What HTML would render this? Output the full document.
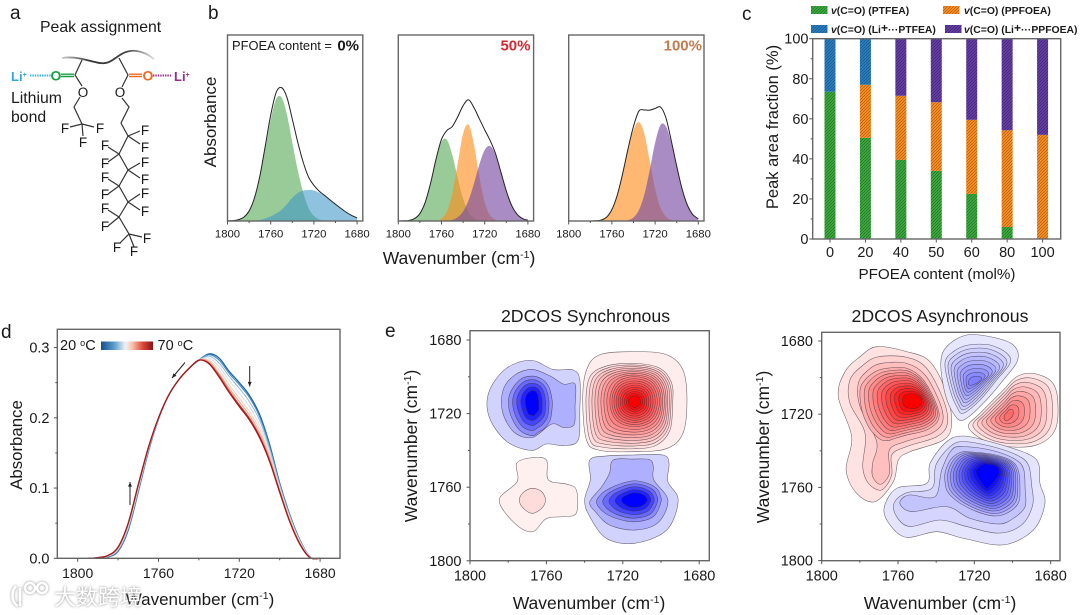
<!DOCTYPE html>
<html lang="en">
<head>
<meta charset="utf-8">
<title>PFOEA peak assignment and 2DCOS figure</title>
<style>
html,body{margin:0;padding:0;background:#fff;width:1080px;height:615px;overflow:hidden}
svg{display:block;font-family:"Liberation Sans","Noto Sans CJK SC",sans-serif}
svg text{fill:#1a1a1a}
</style>
</head>
<body>
<svg id="figure" xmlns="http://www.w3.org/2000/svg" width="1080" height="615" viewBox="0 0 1080 615">
<defs>
<pattern id="hatch-green" patternUnits="userSpaceOnUse" width="3" height="3"><rect width="3" height="3" fill="#3fae3c"/><path d="M-1,1L1,-1M0,3L3,0M2,4L4,2" stroke="#1d6a2a" stroke-width=".7"/></pattern>
<pattern id="hatch-orange" patternUnits="userSpaceOnUse" width="3" height="3"><rect width="3" height="3" fill="#ff921e"/><path d="M-1,1L1,-1M0,3L3,0M2,4L4,2" stroke="#a8581a" stroke-width=".7"/></pattern>
<pattern id="hatch-blue" patternUnits="userSpaceOnUse" width="3" height="3"><rect width="3" height="3" fill="#2a83c4"/><path d="M-1,1L1,-1M0,3L3,0M2,4L4,2" stroke="#1a4f80" stroke-width=".7"/></pattern>
<pattern id="hatch-purple" patternUnits="userSpaceOnUse" width="3" height="3"><rect width="3" height="3" fill="#6a3fa8"/><path d="M-1,1L1,-1M0,3L3,0M2,4L4,2" stroke="#3a2270" stroke-width=".7"/></pattern>
<linearGradient id="temp-gradient" x1="0" x2="1" y1="0" y2="0"><stop offset="0" stop-color="#14508f"/><stop offset=".25" stop-color="#5b9bcc"/><stop offset=".47" stop-color="#eef3f7"/><stop offset=".6" stop-color="#f9c3ac"/><stop offset=".8" stop-color="#dc4a3c"/><stop offset="1" stop-color="#8c1016"/></linearGradient>
<linearGradient id="backbone-gradient" x1="0" x2="1" y1="0" y2="0"><stop offset="0" stop-color="#ccc"/><stop offset=".3" stop-color="#333"/><stop offset=".7" stop-color="#444"/><stop offset="1" stop-color="#ddd"/></linearGradient>
</defs>

<g>
<text x="10" y="19" font-size="19">a</text>
<text x="40" y="32" font-size="15.8">Peak assignment</text>
<path d="M62,58C75,56 85,60 95,62C108,66 112,60 120,55C130,48 143,50 154,59" fill="none" stroke="url(#backbone-gradient)" stroke-width="1.8"/>
<g fill="none" stroke="#333" stroke-width="1.2">
<path d="M82,60L75,75L82,86M80,97L74,107L82,124M82,124L70,127M82,124L94,127M82,124L83,136"/>
<path d="M119,58L128,75L122,87M122,98L129,107L121,123L128,136M128,136L140,131M128,136L140,144M128,136L119,154M119,154L108,147M119,154L108,162M119,154L128,170M128,170L140,163M128,170L140,178M128,170L119,186M119,186L108,179M119,186L108,194M119,186L128,202M128,202L140,194M128,202L140,210M128,202L119,217M119,217L108,210M119,217L108,226M119,217L129,234M129,234L142,237M129,234L120,243M129,234L134,247"/>
</g>
<path d="M61,74.2H74M61,76.5H74" stroke="#19a045" stroke-width="1.4"/>
<path d="M129,74.2H142M129,76.5H142" stroke="#ef6a22" stroke-width="1.4"/>
<path d="M30,75.5H51" stroke="#35b0dc" stroke-width="2" stroke-dasharray="1.4 1"/>
<path d="M153,75.5H172" stroke="#a0288c" stroke-width="2" stroke-dasharray="1.4 1"/>
<text x="11" y="81" font-size="13" font-weight="bold" style="fill:#35a8d8">Li<tspan font-size="7" dy="-4" style="fill:#35a8d8">+</tspan></text>
<text x="50.5" y="80.5" font-size="14" font-weight="bold" style="fill:#19a045">O</text>
<text x="142.5" y="80.5" font-size="14" font-weight="bold" style="fill:#ef6a22">O</text>
<text x="174" y="81" font-size="13" font-weight="bold" style="fill:#9a2a8c">Li<tspan font-size="7" dy="-4" style="fill:#9a2a8c">+</tspan></text>
<text x="11" y="103" font-size="15.8">Lithium</text>
<text x="11" y="122" font-size="15.8">bond</text>
<g font-size="13.5" text-anchor="middle">
<text x="83" y="97">O</text><text x="120" y="97">O</text>
<text x="65" y="133">F</text><text x="100" y="133">F</text><text x="83" y="147">F</text>
<text x="145" y="135">F</text><text x="145" y="152">F</text><text x="105" y="150">F</text><text x="105" y="168">F</text>
<text x="145" y="167">F</text><text x="145" y="184">F</text><text x="105" y="182">F</text><text x="105" y="199">F</text>
<text x="145" y="198">F</text><text x="145" y="216">F</text><text x="105" y="213">F</text><text x="105" y="231">F</text>
<text x="147" y="243">F</text><text x="117" y="252">F</text><text x="134" y="256">F</text>
</g>
</g>

<g id="panel-b">
<text x="208" y="19" font-size="19">b</text>
<text transform="translate(216,122) rotate(-90)" text-anchor="middle" font-size="17">Absorbance</text>
<text x="459" y="264" text-anchor="middle" font-size="17.5">Wavenumber (cm<tspan font-size="10.5" dy="-6">-1</tspan><tspan dy="6">)</tspan></text>
</g>

<g id="panel-c">
<text x="742" y="20" font-size="19">c</text>
<text transform="translate(778,127) rotate(-90)" text-anchor="middle" font-size="16.5">Peak area fraction (%)</text>
<text x="937" y="279" text-anchor="middle" font-size="15.2">PFOEA content (mol%)</text>
<g font-size="10.4" font-weight="bold">
<rect x="811" y="6" width="16.5" height="8" fill="url(#hatch-green)"/>
<text x="831" y="14"><tspan font-style="italic">v</tspan>(C=O) (PTFEA)</text>
<rect x="943" y="6" width="16.5" height="8" fill="url(#hatch-orange)"/>
<text x="964" y="14"><tspan font-style="italic">v</tspan>(C=O) (PPFOEA)</text>
<rect x="811" y="25" width="16.5" height="8" fill="url(#hatch-blue)"/>
<text x="831" y="33"><tspan font-style="italic">v</tspan>(C=O) (Li<tspan font-size="12" dy="-1">+</tspan><tspan dy="1">···PTFEA)</tspan></text>
<rect x="945" y="25" width="16.5" height="8" fill="url(#hatch-purple)"/>
<text x="964" y="33"><tspan font-style="italic">v</tspan>(C=O) (Li<tspan font-size="12" dy="-1">+</tspan><tspan dy="1">···PPFOEA)</tspan></text>
</g>
</g>

<g id="panel-d">
<text x="1" y="338" font-size="19">d</text>
<text transform="translate(22,445) rotate(-90)" text-anchor="middle" font-size="16.8">Absorbance</text>
<text x="200" y="605" text-anchor="middle" font-size="17">Wavenumber (cm<tspan font-size="10.5" dy="-6">-1</tspan><tspan dy="6">)</tspan></text>
<text x="60" y="350" font-size="14.5">20 <tspan font-size="9" dy="-4">o</tspan><tspan dy="4">C</tspan></text>
<rect x="101" y="341.5" width="52" height="8.5" fill="url(#temp-gradient)"/>
<text x="157.5" y="350" font-size="14.5">70 <tspan font-size="9" dy="-4">o</tspan><tspan dy="4">C</tspan></text>
</g>

<g id="panel-e1">
<text x="385" y="337" font-size="19">e</text>
<text x="585.5" y="322" text-anchor="middle" font-size="17.7">2DCOS Synchronous</text>
<text transform="translate(417,446) rotate(-90)" text-anchor="middle" font-size="17.5">Wavenumber (cm<tspan font-size="10.5" dy="-6">-1</tspan><tspan dy="6">)</tspan></text>
<text x="589" y="609" text-anchor="middle" font-size="17.5">Wavenumber (cm<tspan font-size="10.5" dy="-6">-1</tspan><tspan dy="6">)</tspan></text>
</g>

<g id="panel-e2">
<text x="940" y="322" text-anchor="middle" font-size="17.7">2DCOS Asynchronous</text>
<text transform="translate(769,447) rotate(-90)" text-anchor="middle" font-size="17.5">Wavenumber (cm<tspan font-size="10.5" dy="-6">-1</tspan><tspan dy="6">)</tspan></text>
<text x="940" y="609" text-anchor="middle" font-size="17.5">Wavenumber (cm<tspan font-size="10.5" dy="-6">-1</tspan><tspan dy="6">)</tspan></text>
</g>

<g style="filter:drop-shadow(0 0 1.2px #8a8a8a)">
<path d="M16,586C11,592 11,602 18,606M20,588V606M30,583a5,5 0 1 0 .1,0M42,583a5,5 0 1 0 .1,0" fill="none" stroke="#fff" stroke-width="2.6"/>
<text x="54" y="605" font-size="22" style="fill:#fff;font-family:'Liberation Sans','Noto Sans CJK SC',sans-serif">大数跨境</text>
</g>
</svg>

<script>
// ---------- panel b data (absorbance fraction of the frame, one value per wavenumber) ----------
const bandWavenumbers = [1800,1795,1790,1785,1780,1775,1770,1765,1760,1755,1750,1745,1740,1735,1730,1725,1720,1715,1710,1705,1700,1695,1690,1685,1680];
const green0 = [0,.002,.007,.02,.054,.123,.237,.39,.546,.655,.665,.573,.423,.275,.155,.07,.028,.008,.002,0,0,0,0,0,0];
const blue0 = [0,0,0,0,0,.002,.006,.014,.025,.04,.06,.09,.125,.15,.163,.167,.164,.152,.135,.113,.09,.068,.047,.03,.017];
const envelope0 = [.001,.002,.007,.02,.054,.125,.243,.404,.57,.69,.717,.665,.548,.425,.318,.237,.192,.16,.137,.113,.09,.068,.047,.03,.017];
const green50 = [0,.001,.003,.013,.04,.102,.206,.332,.426,.436,.355,.231,.12,.049,.016,.004,.001,0,0,0,0,0,0,0,0];
const orange50 = [0,0,0,0,0,0,0,.002,.013,.051,.147,.309,.47,.518,.413,.239,.1,.03,.007,.001,0,0,0,0,0];
const purple50 = [0,0,0,0,0,0,0,0,0,0,.006,.02,.051,.11,.2,.303,.382,.403,.356,.262,.162,.083,.036,.013,.004];
const envelope50 = [0,.001,.003,.013,.04,.102,.206,.334,.439,.487,.508,.56,.62,.652,.61,.55,.49,.433,.363,.263,.162,.083,.036,.013,.004];
const orange100 = [0,0,0,0,0,.001,.005,.02,.062,.14,.255,.385,.49,.532,.47,.323,.173,.072,.023,.006,.001,0,0,0,0];
const purple100 = [0,0,0,0,0,0,0,0,0,0,.001,.005,.019,.059,.142,.273,.42,.516,.509,.42,.292,.171,.084,.034,.012];
const envelope100 = [0,0,0,0,0,.001,.005,.02,.062,.14,.256,.39,.509,.591,.597,.596,.605,.613,.555,.431,.295,.172,.084,.034,.012];
const bandMajorTicks = [1800,1760,1720,1680];
const bandMinorTicks = [1780,1740,1700];

// ---------- panel c data ----------
const contentCategories = [0,20,40,50,60,80,100];
const ptfeaValues = [73.5,50.5,39.5,34,22.5,6,0];
const ppfoeaValues = [0,26.5,32,34.3,37,48.3,52];
const liPtfeaValues = [26.5,23,0,0,0,0,0];
const liPpfoeaValues = [0,0,28.5,31.7,40.5,45.7,48];
const fractionTicks = [0,20,40,60,80,100];
const fractionMinorTicks = [10,30,50,70,90];

// ---------- panel d data ----------
const tempWavenumbers = [1795,1790,1785,1780,1775,1770,1765,1760,1755,1750,1745,1740,1735,1730,1725,1720,1715,1710,1705,1700,1695,1690,1685,1680];
const temp20 = [0,0,.002,.01,.04,.095,.152,.198,.232,.254,.27,.282,.291,.285,.266,.25,.232,.205,.162,.107,.062,.026,.002,0];
const temp25 = [0,0,.002,.011,.041,.096,.153,.198,.232,.254,.27,.282,.29,.282,.263,.247,.229,.202,.16,.106,.061,.025,.002,0];
const temp30 = [0,0,.003,.012,.043,.098,.154,.199,.232,.254,.27,.282,.288,.278,.259,.242,.223,.197,.156,.104,.06,.025,.002,0];
const temp35 = [0,0,.003,.013,.045,.1,.155,.199,.232,.254,.27,.282,.285,.273,.253,.235,.216,.19,.151,.101,.058,.024,.002,0];
const temp40 = [0,.001,.003,.014,.047,.101,.155,.199,.232,.254,.27,.282,.282,.268,.247,.228,.209,.184,.146,.099,.056,.022,.001,0];
const temp50 = [0,.001,.004,.015,.048,.103,.156,.2,.232,.254,.27,.282,.28,.263,.242,.223,.204,.179,.143,.097,.054,.021,.001,0];
const temp60 = [0,.001,.004,.015,.049,.104,.157,.2,.232,.254,.27,.282,.278,.261,.239,.219,.2,.175,.14,.095,.053,.021,.001,0];
const temp65 = [0,.001,.004,.016,.05,.105,.157,.2,.232,.254,.27,.282,.278,.259,.237,.218,.199,.174,.139,.095,.052,.02,.001,0];
const temp70 = [0,.001,.004,.016,.05,.105,.158,.2,.232,.254,.27,.282,.277,.258,.236,.216,.197,.172,.138,.094,.052,.02,.001,0];
const tempSeriesColors = ['#1f5fa8','#3f86be','#8ebcdc','#cfe0ee','#f8d0c0','#f4a58a','#e06a55','#c8332f','#a01a1c'];
const absorbanceTicks = [0,.1,.2,.3];
const absorbanceLabels = ['0.0','0.1','0.2','0.3'];
const absorbanceMinorTicks = [.05,.15,.25];

// ---------- panel e contour outlines, read in wavenumbers as x,y pairs ----------
const syncTlOuter = [1768,1691,1756.5,1696,1746,1696.3,1742.5,1701.7,1742.5,1718,1743.4,1734.4,1751,1737.4,1760,1736.5,1768,1740,1781,1735,1790,1721.7,1790,1708,1781,1695.4];
const syncTlSecond = [1767.4,1696,1758,1699.6,1751,1704,1745,1704,1745,1716,1745.5,1726,1751,1727.5,1757.3,1725.7,1767.4,1733,1777,1730,1783,1719,1782.6,1707,1776.5,1699];
const syncTlThird = [1767.4,1699.6,1761.7,1701.7,1758.5,1706,1757,1712.6,1757,1717,1758,1723.5,1761,1728,1764,1730,1767.4,1732,1774,1729,1779,1720,1779.4,1710,1774,1701.7];
const syncTlCore = [1767.4,1707.5,1765.5,1708,1764.5,1710,1764,1712.6,1764,1715,1764,1718,1765.5,1720,1766.5,1721,1767.4,1721,1769.5,1720,1771,1715,1771,1711.7,1769.5,1708.6];
const syncTrOuter = [1713.8,1686.3,1697,1688,1688.5,1696.3,1686.4,1712.6,1688.5,1730.7,1697,1739,1713.8,1740.7,1732,1740,1739,1734.4,1741,1712.6,1739,1696.3,1732,1688];
const syncTrSecond = [1713.6,1692.7,1700.5,1695.4,1694.4,1703.5,1693.9,1714.4,1695.3,1728.9,1702.3,1737.1,1713.6,1739.1,1730.2,1738.3,1737.2,1734.3,1739.3,1714.4,1737.2,1700,1728.4,1694.1];
const syncTrMiddle = [1713.8,1699.9,1706.5,1701.7,1702.5,1705.9,1700.8,1713.5,1702.5,1721.1,1706.5,1725.3,1713.8,1727.1,1721.1,1725.3,1725.1,1721.1,1726.8,1713.5,1725.1,1705.9,1721.1,1701.7];
const syncTrCore = [1713.8,1710.3,1712,1710.8,1711,1712,1710.8,1713.5,1711,1715,1712.2,1716,1713.8,1716.8,1715.3,1716,1716.6,1715,1717,1713.5,1716.6,1712,1715.3,1710.8];
const syncBlOuter = [1767.8,1744,1760,1745.2,1759,1756,1749.5,1758.3,1744.3,1761.5,1744.3,1774,1751,1776,1760,1777,1767.3,1784.2,1776.5,1779.7,1784.7,1767,1775.3,1757,1775.6,1747];
const syncBlCore = [1767.4,1760.6,1762.5,1762.4,1760.5,1767,1762.5,1771.5,1767.4,1774.2,1772,1771.5,1774.2,1767,1772,1762.8];
const syncBrOuter = [1714.6,1742.5,1699,1742.5,1695.8,1747,1696.4,1757,1691,1767,1697,1783.3,1713.8,1790.5,1728.6,1787.8,1737.3,1776,1740,1767,1737,1756,1737.3,1745.2,1728.6,1743];
const syncBrSecond = [1714.6,1744.7,1706,1745,1704,1748.9,1703.8,1756,1696.4,1767,1701.6,1779.3,1713.8,1783.3,1726.8,1780.6,1733.8,1774,1737.3,1768,1731,1759.7,1727,1752.5,1725,1745.2];
const syncBrThird = [1713.8,1756.5,1706.8,1758,1702.4,1760.6,1700.7,1763.4,1700,1768,1704,1776,1713.8,1778.8,1723.4,1777,1730.3,1773.3,1733.8,1768,1731,1763.4,1726.8,1760.6,1720.7,1758];
const syncBrCore = [1713.8,1763,1710.8,1763.4,1708.5,1764.6,1707.5,1766,1707.3,1767.5,1709.8,1770,1713.8,1771,1717.3,1770.4,1719.5,1769,1720.7,1767.3,1720,1765.5,1718,1764.3,1716,1763.4];

const asyncRedOuter = [1771.2,1683.1,1755.5,1685.8,1743.2,1691.3,1734.5,1708.6,1731.9,1725,1736.2,1734.1,1753.7,1740.5,1759.8,1745,1762.4,1756.8,1772,1767.8,1781.7,1763.2,1787.2,1750.5,1784.3,1732.3,1791.3,1710.4,1787.8,1696.8,1779.9,1688.6];
const asyncRedSecond = [1770.3,1688.6,1755.5,1688.9,1745,1694.9,1736.2,1712.2,1734.1,1725,1739.7,1732.3,1755.5,1737.7,1763.3,1742.3,1763.3,1753.2,1768.6,1761.4,1775.5,1757.8,1778.5,1748.7,1777.3,1730.4,1785.2,1714,1785.2,1701.3,1778.2,1693.1];
const asyncRedThird = [1768.6,1692.2,1755.5,1692.2,1745.8,1698.6,1738,1714,1736.6,1724.1,1742.3,1730.4,1756.3,1735,1764.5,1739.5,1764.5,1752.3,1769.1,1758.3,1773.3,1754.1,1773.3,1746.8,1771.2,1735,1779.9,1715.9,1780.8,1703.1,1775.5,1695.8];
const asyncRedFourth = [1765.9,1694.9,1755.5,1694.9,1746.7,1701.3,1739.7,1715,1738.9,1723.2,1745,1728.6,1755.5,1731.4,1761.6,1733.2,1765.1,1734.4,1768.6,1734.1,1772,1731.4,1775.5,1726.8,1779,1717.7,1779.9,1706.8,1777.3,1701.3,1772,1696.8];
const asyncRedCore = [1755.5,1709.1,1752,1708.8,1749.3,1709.9,1747.6,1712.2,1747.8,1714.4,1749.3,1716.2,1752,1717,1754.1,1716.8,1755.8,1716.2,1757.2,1715,1757.5,1713.7,1757.5,1712.2,1757.5,1711.3,1757.2,1710.4,1756.7,1709.9,1756.1,1709.5];
const asyncTopOuter = [1724,1676.7,1710,1678,1699.5,1682.2,1697.3,1690.4,1704.8,1701.3,1715.3,1714,1725.8,1723.2,1731,1719.5,1735.4,1708.6,1737.6,1692.2,1734.5,1683.1];
const asyncTopSecond = [1723.1,1682.2,1711.8,1682.2,1703,1686.7,1701.3,1692.2,1708.3,1701.3,1717,1712.2,1725.8,1719.5,1729.2,1715.9,1732.7,1706.8,1735.4,1692.2,1731,1685.8];
const asyncTopCore = [1720.2,1699.5,1717.4,1699.5,1716.1,1700.4,1716.7,1701.3,1718.4,1702.8,1720.9,1704,1722.3,1704.2,1723.1,1703.5,1723.1,1702.2,1722.6,1700.9,1721.4,1699.8];
const asyncRightOuter = [1689.1,1697.7,1679.5,1702.2,1676.3,1712.2,1677.7,1728.6,1687.3,1736.8,1703,1737.7,1715.3,1734.1,1723.1,1726.8,1717,1719.5,1704.8,1706.8,1697.8,1699.5];
const asyncRightCore = [1701.3,1717.3,1699.9,1717.7,1699.5,1719.5,1700.2,1721.3,1701.6,1722.8,1703,1723.5,1704.3,1722.8,1704.4,1721.3,1703.9,1720,1703,1719.2,1702.2,1718];
const asyncBottomOuter = [1725.8,1731.9,1711.8,1735,1692.6,1741.4,1686.4,1746.8,1685.6,1757.8,1683,1768.7,1689.1,1783.3,1704.8,1791.4,1725.8,1787.8,1739.7,1784.2,1755.5,1787.3,1764.2,1780.5,1767.3,1771.4,1760.7,1760.5,1745,1757.8,1743.2,1746.8,1734.5,1735];
const asyncBottomSecond = [1725.8,1735,1711.8,1737.4,1697.8,1742.3,1691.7,1747.7,1690,1758.7,1689.4,1769.6,1695.2,1780.5,1707.4,1785,1724,1781.4,1738,1777.8,1753.7,1781.4,1760.7,1776,1762.1,1768.7,1755.5,1762.9,1742.3,1760.5,1740.1,1747.7,1732.7,1737.7];
const asyncBottomThird = [1725.8,1737.7,1711.8,1739.5,1699.5,1744.1,1694.3,1749.6,1693.4,1760.5,1693.4,1770.5,1699.5,1776.9,1707.4,1780,1722.3,1776.9,1734.5,1770.5,1752,1773.2,1758.1,1770.5,1758.6,1766.9,1753.7,1764.1,1740.6,1765,1737.1,1750.5,1731.9,1739.5];
const asyncBottomFourth = [1724,1740.5,1711.8,1741.7,1701.3,1745,1697,1750.5,1696.1,1760.5,1697,1768.7,1703,1774.1,1710,1775.6,1718.8,1773.2,1727.5,1768.7,1731.9,1765,1734.5,1761.4,1735.4,1756.8,1735.4,1752.3,1733.6,1746.8,1731,1743.2,1727.5,1741];
const asyncBottomCore = [1713,1747.2,1709.7,1747.7,1707.4,1749.6,1706.9,1752.3,1708.3,1755,1710.4,1757.8,1712.3,1759.9,1713.5,1760.7,1714.4,1759.9,1716.1,1757.8,1717.9,1755,1718.8,1753.2,1719.1,1751.4,1718.8,1750.1,1717.4,1748.7,1716.1,1747.7,1714.4,1747.2];
const mapMajorTicks = [1800,1760,1720,1680];
const mapMinorTicks = [1780,1740,1700];

// ---------- helpers ----------
const NS = 'http://www.w3.org/2000/svg';
function svgEl(parent, tag, attrs) {
  const el = document.createElementNS(NS, tag);
  for (const k in attrs) el.setAttribute(k, attrs[k]);
  parent.appendChild(el);
  return el;
}
function openPath(pts) {
  let d = 'M' + pts[0][0].toFixed(2) + ',' + pts[0][1].toFixed(2);
  for (let i = 0; i < pts.length - 1; i++) {
    const p0 = pts[Math.max(i - 1, 0)], p1 = pts[i], p2 = pts[i + 1], p3 = pts[Math.min(i + 2, pts.length - 1)];
    d += 'C' + (p1[0] + (p2[0] - p0[0]) / 6).toFixed(2) + ',' + (p1[1] + (p2[1] - p0[1]) / 6).toFixed(2) + ' ' +
         (p2[0] - (p3[0] - p1[0]) / 6).toFixed(2) + ',' + (p2[1] - (p3[1] - p1[1]) / 6).toFixed(2) + ' ' +
         p2[0].toFixed(2) + ',' + p2[1].toFixed(2);
  }
  return d;
}
function closedPath(pts) {
  const n = pts.length;
  let d = 'M' + pts[0][0].toFixed(2) + ',' + pts[0][1].toFixed(2);
  for (let i = 0; i < n; i++) {
    const p0 = pts[(i - 1 + n) % n], p1 = pts[i], p2 = pts[(i + 1) % n], p3 = pts[(i + 2) % n];
    d += 'C' + (p1[0] + (p2[0] - p0[0]) / 6).toFixed(2) + ',' + (p1[1] + (p2[1] - p0[1]) / 6).toFixed(2) + ' ' +
         (p2[0] - (p3[0] - p1[0]) / 6).toFixed(2) + ',' + (p2[1] - (p3[1] - p1[1]) / 6).toFixed(2) + ' ' +
         p2[0].toFixed(2) + ',' + p2[1].toFixed(2);
  }
  return d + 'Z';
}
function drawFrame(g, x, y, w, h) {
  const frame = svgEl(g, 'rect', {x: x, y: y, width: w, height: h, fill: 'none', stroke: '#666', 'stroke-width': 1.4});
  
  
}
function xTick(g, x, y0, len) {
  const t = svgEl(g, 'line', {x1: x, x2: x, y1: y0, y2: y0 + len, stroke: '#555', 'stroke-width': 1});
  
  
}
function yTick(g, x0, y, len) {
  const t = svgEl(g, 'line', {x1: x0, x2: x0 - len, y1: y, y2: y, stroke: '#555', 'stroke-width': 1});
  
  
}
function xLabel(g, x, y, txt, size) {
  const t = svgEl(g, 'text', {x: x, y: y, 'text-anchor': 'middle', 'font-size': size});
  t.textContent = txt;
  
  
}
function yLabel(g, x, y, txt, size) {
  const t = svgEl(g, 'text', {x: x, y: y, 'text-anchor': 'end', 'font-size': size});
  t.textContent = txt;
  
  
}

// ---------- panel b ----------
const panelB = document.getElementById('panel-b');
const bandFills = {green: ['#4ea64e', .58], blue: ['#3c96c8', .58], orange: ['#ff8c1a', .62], purple: ['#7a4fa3', .65]};
function drawBandPanel(x0, bands, envelope) {
  const g = svgEl(panelB, 'g', {});
  
  
  const bx = w => x0 + (1800 - w) * 1.08;
  const by = v => 221 - v * 186;
  bands.forEach(b => {
    const pts = bandWavenumbers.map((w, i) => [bx(w), by(b.values[i])]);
    const d = openPath(pts) + 'L' + bx(1680) + ',221L' + bx(1800) + ',221Z';
    const area = svgEl(g, 'path', {d: d, fill: bandFills[b.color][0], 'fill-opacity': bandFills[b.color][1]});
    
    
  });
  const pts = bandWavenumbers.map((w, i) => [bx(w), by(envelope[i])]);
  const line = svgEl(g, 'path', {d: openPath(pts), fill: 'none', stroke: '#222', 'stroke-width': 1});
  
  
  drawFrame(g, x0, 35, 135.3, 186);
  bandMajorTicks.forEach(w => { xTick(g, bx(w), 221, 3.5); xLabel(g, bx(w), 237.5, String(w), 11.3); });
  bandMinorTicks.forEach(w => xTick(g, bx(w), 221, 2));
}
drawBandPanel(227.5, [{color: 'green', values: green0}, {color: 'blue', values: blue0}], envelope0);
drawBandPanel(398.3, [{color: 'green', values: green50}, {color: 'orange', values: orange50}, {color: 'purple', values: purple50}], envelope50);
drawBandPanel(568.7, [{color: 'orange', values: orange100}, {color: 'purple', values: purple100}], envelope100);
const labelZero = svgEl(panelB, 'text', {x: 232, y: 50, 'font-size': 12.9});
labelZero.textContent = 'PFOEA content = ';


const valueZero = svgEl(panelB, 'text', {x: 359, y: 50.5, 'font-size': 15, 'font-weight': 'bold', 'text-anchor': 'end'});
valueZero.textContent = '0%';


const valueFifty = svgEl(panelB, 'text', {x: 530.5, y: 50.5, 'font-size': 15, 'font-weight': 'bold', 'text-anchor': 'end', style: 'fill:#d6282e'});
valueFifty.textContent = '50%';


const valueHundred = svgEl(panelB, 'text', {x: 702, y: 50.5, 'font-size': 15, 'font-weight': 'bold', 'text-anchor': 'end', style: 'fill:#c57a4c'});
valueHundred.textContent = '100%';



// ---------- panel c ----------
const panelC = document.getElementById('panel-c');
const cy = v => 239 - v * 2.003;
const cx = i => 830 + i * 35.43;
const stackSeries = [
  {name: 'ptfea', fill: 'url(#hatch-green)', values: ptfeaValues},
  {name: 'ppfoea', fill: 'url(#hatch-orange)', values: ppfoeaValues},
  {name: 'li-ptfea', fill: 'url(#hatch-blue)', values: liPtfeaValues},
  {name: 'li-ppfoea', fill: 'url(#hatch-purple)', values: liPpfoeaValues}
];
contentCategories.forEach((c, i) => {
  let base = 0;
  stackSeries.forEach(s => {
    const v = s.values[i];
    if (v > 0) {
      const bar = svgEl(panelC, 'rect', {x: cx(i) - 5.5, y: cy(base + v), width: 11, height: cy(base) - cy(base + v), fill: s.fill});
      
      
    }
    base += v;
  });
  xTick(panelC, cx(i), 239, 3.5);
  xLabel(panelC, cx(i), 257, String(c), 14.5);
});
drawFrame(panelC, 812.7, 38.7, 248, 200.3);
fractionTicks.forEach(v => { yTick(panelC, 812.7, cy(v), 3.5); yLabel(panelC, 808.5, cy(v) + 5, String(v), 14.5); });
fractionMinorTicks.forEach(v => yTick(panelC, 812.7, cy(v), 2));

// ---------- panel d ----------
const panelD = document.getElementById('panel-d');
const dx = w => 77.7 + (1800 - w) * 2.02;
const dy = v => 558.3 - v * 702.5;
const tempSeries = [temp20, temp25, temp30, temp35, temp40, temp50, temp60, temp65, temp70];
tempSeries.forEach((s, k) => {
  const pts = tempWavenumbers.map((w, i) => [dx(w), dy(s[i])]);
  const line = svgEl(panelD, 'path', {d: openPath(pts), fill: 'none', stroke: tempSeriesColors[k], 'stroke-width': (k === 0 || k === 8) ? 1.3 : 1});
  
  
});
drawFrame(panelD, 57.3, 329.3, 282.7, 229);
bandMajorTicks.forEach(w => { xTick(panelD, dx(w), 558.3, 3.5); xLabel(panelD, dx(w), 578, String(w), 14); });
bandMinorTicks.forEach(w => xTick(panelD, dx(w), 558.3, 2));
absorbanceTicks.forEach((v, i) => { yTick(panelD, 57.3, dy(v), 3.5); yLabel(panelD, 49.5, dy(v) + 5, absorbanceLabels[i], 14.5); });
absorbanceMinorTicks.forEach(v => yTick(panelD, 57.3, dy(v), 2));
const arrowCoords = [[130, 505, 130, 482], [185, 362.5, 172, 378], [249.7, 366, 249.7, 386.5]];
arrowCoords.forEach(a => {
  const ang = Math.atan2(a[3] - a[1], a[2] - a[0]);
  const shaft = svgEl(panelD, 'line', {x1: a[0], y1: a[1], x2: a[2], y2: a[3], stroke: '#222', 'stroke-width': 1});
  
  
  const h = 5;
  const p = [a[2], a[3], a[2] - h * Math.cos(ang - .4), a[3] - h * Math.sin(ang - .4), a[2] - h * Math.cos(ang + .4), a[3] - h * Math.sin(ang + .4)];
  const head = svgEl(panelD, 'polygon', {points: p.join(','), fill: '#222'});
  
  
});

// ---------- panel e ----------
function hexRgb(h) { return [parseInt(h.slice(1, 3), 16), parseInt(h.slice(3, 5), 16), parseInt(h.slice(5, 7), 16)]; }
function mixColor(a, b, t) {
  const A = hexRgb(a), B = hexRgb(b);
  return 'rgb(' + A.map((v, i) => Math.round(v + (B[i] - v) * t)).join(',') + ')';
}
function toPairs(flat) {
  const out = [];
  for (let i = 0; i < flat.length; i += 2) out.push([flat[i], flat[i + 1]]);
  return out;
}
function drawLobe(g, sx, sy, keys, steps, from, to, name) {
  const rings = [toPairs(keys[0])];
  for (let k = 0; k < keys.length - 1; k++) {
    const a = toPairs(keys[k]), b = toPairs(keys[k + 1]);
    for (let s = 1; s <= steps[k]; s++) {
      const t = s / steps[k];
      rings.push(a.map((p, i) => [p[0] + (b[i][0] - p[0]) * t, p[1] + (b[i][1] - p[1]) * t]));
    }
  }
  rings.forEach((r, i) => {
    const pts = r.map(p => [sx(p[0]), sy(p[1])]);
    const ring = svgEl(g, 'path', {d: closedPath(pts), fill: mixColor(from, to, rings.length > 1 ? i / (rings.length - 1) : 0), stroke: '#3a3038', 'stroke-opacity': .75, 'stroke-width': .55});
    
    
  });
}
function drawMapAxes(g, fx, fy, fw, fh, sx, sy, labelX) {
  drawFrame(g, fx, fy, fw, fh);
  mapMajorTicks.forEach(w => {
    xTick(g, sx(w), fy + fh, 3.5);
    xLabel(g, sx(w), fy + fh + 20, String(w), 14.5);
    yTick(g, fx, sy(w), 3.5);
    yLabel(g, labelX, sy(w) + 5, String(w), 14.5);
  });
  mapMinorTicks.forEach(w => { xTick(g, sx(w), fy + fh, 2); yTick(g, fx, sy(w), 2); });
}
const panelE1 = document.getElementById('panel-e1');
const s1x = w => 470 + (1800 - w) * 1.91;
const s1y = w => 340 + (w - 1680) * 1.84;
drawLobe(panelE1, s1x, s1y, [syncTlOuter, syncTlSecond, syncTlThird, syncTlCore], [1, 1, 4], '#d2d2ff', '#0000ff', 'contour-sync-negative');
drawLobe(panelE1, s1x, s1y, [syncTrOuter, syncTrSecond, syncTrMiddle, syncTrCore], [1, 8, 9], '#ffecec', '#ff0000', 'contour-sync-positive');
drawLobe(panelE1, s1x, s1y, [syncBlOuter], [], '#fff0f0', '#fff0f0', 'contour-sync-weak-positive');
drawLobe(panelE1, s1x, s1y, [syncBlCore], [], '#ffdcdc', '#ffdcdc', 'contour-sync-weak-positive');
drawLobe(panelE1, s1x, s1y, [syncBrOuter, syncBrSecond, syncBrThird, syncBrCore], [1, 1, 4], '#d2d2ff', '#0000ff', 'contour-sync-negative');
drawMapAxes(panelE1, 470, 330.7, 239.3, 230, s1x, s1y, 461.5);

const panelE2 = document.getElementById('panel-e2');
const s2x = w => 821.7 + (1800 - w) * 1.908;
const s2y = w => 341 + (w - 1680) * 1.83;
drawLobe(panelE2, s2x, s2y, [asyncRedOuter, asyncRedSecond, asyncRedThird, asyncRedFourth, asyncRedCore], [1, 1, 1, 10], '#ffe2e2', '#ff0000', 'contour-async-positive');
drawLobe(panelE2, s2x, s2y, [asyncTopOuter, asyncTopSecond, asyncTopCore], [1, 8], '#e6e6ff', '#7f7fff', 'contour-async-negative');
drawLobe(panelE2, s2x, s2y, [asyncRightOuter, asyncRightCore], [8], '#ffe6e6', '#ff6a6a', 'contour-async-positive');
drawLobe(panelE2, s2x, s2y, [asyncBottomOuter, asyncBottomSecond, asyncBottomThird, asyncBottomFourth, asyncBottomCore], [1, 1, 1, 11], '#e4e4ff', '#0000ff', 'contour-async-negative');
drawMapAxes(panelE2, 821.7, 332.3, 238.3, 228.4, s2x, s2y, 813);
</script>
</body>
</html>
